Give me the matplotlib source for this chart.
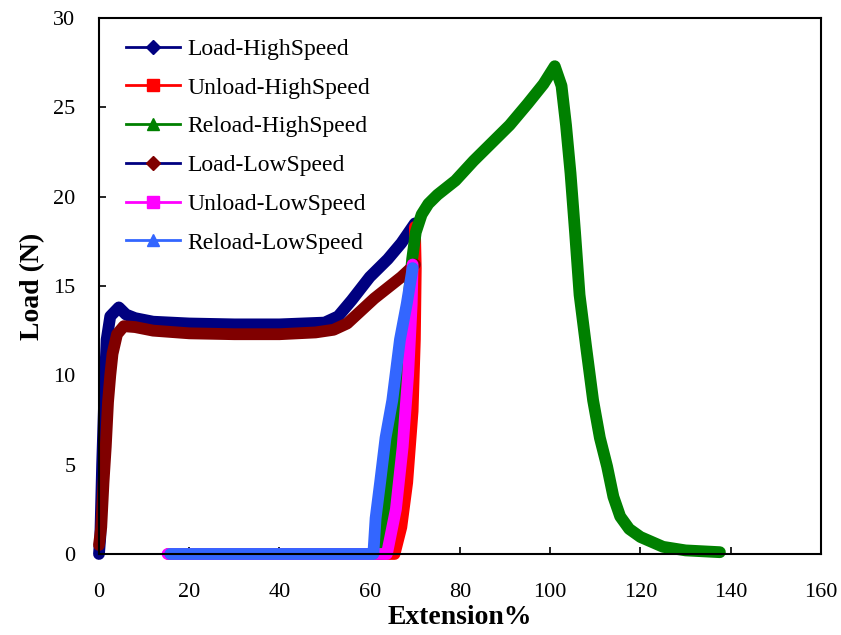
import matplotlib.pyplot as plt
from matplotlib.lines import Line2D

plt.rcParams['font.family'] = ['Liberation Serif', 'DejaVu Serif']

# load / unload / reload curves
load_hs_x = [0, 0.3, 0.7, 1.2, 1.7, 2.5, 4.4, 6, 8, 12, 20, 30, 40, 50, 53, 56, 60, 64, 67, 70]
load_hs_y = [0, 1, 5, 9, 12, 13.3, 13.8, 13.4, 13.2, 13.0, 12.9, 12.85, 12.85, 12.95, 13.3, 14.2, 15.5, 16.5, 17.4, 18.5]

unload_hs_x = [70, 70.2, 70, 69.5, 68.3, 67, 65.5, 60, 40, 20, 15.5]
unload_hs_y = [18.3, 16, 12, 8, 4, 1.5, 0, 0, 0, 0, 0]

reload_hs_x = [15.5, 40, 62.5, 63.2, 64.5, 66, 67.3, 68.5, 69.4, 70.2, 71.5, 73, 75, 79, 83, 87, 91, 95,
               98.5, 101, 102.5, 103.5, 104.5, 105.5, 106.5, 108, 109.5, 111, 112.6, 114, 115.5, 117.5,
               120, 125, 130, 137.6]
reload_hs_y = [0, 0, 0, 1, 4, 8, 11, 14, 16.5, 18, 19, 19.6, 20.1, 20.9, 22, 23, 24, 25.2,
               26.3, 27.3, 26.2, 24, 21.3, 18, 14.5, 11.5, 8.6, 6.5, 4.9, 3.2, 2.1, 1.4,
               0.95, 0.4, 0.2, 0.1]

load_ls_x = [0, 0.5, 1.0, 1.5, 2.0, 2.5, 3.0, 4.0, 5.5, 8, 12, 20, 30, 40, 48, 52, 55, 58, 61, 64, 67, 70]
load_ls_y = [0.5, 1.5, 4, 6, 8.5, 10, 11.2, 12.3, 12.75, 12.7, 12.5, 12.35, 12.3, 12.3, 12.4, 12.55, 12.9, 13.6, 14.3, 14.9, 15.5, 16.2]

unload_ls_x = [69.5, 69.3, 68.5, 67.3, 65.8, 63.8, 40, 15.2]
unload_ls_y = [16.2, 14, 10, 6, 2.5, 0, 0, 0]

reload_ls_x = [15.8, 40, 60.8, 61.3, 62.3, 63.5, 65, 66.7, 68.2, 69.5]
reload_ls_y = [0, 0, 0, 2, 4, 6.5, 8.6, 12, 14, 16]

series = [
    ('Load-HighSpeed', load_hs_x, load_hs_y, '#000080', '#000080', 'D'),
    ('Unload-HighSpeed', unload_hs_x, unload_hs_y, '#ff0000', '#ff0000', 's'),
    ('Reload-HighSpeed', reload_hs_x, reload_hs_y, '#008000', '#008000', '^'),
    ('Load-LowSpeed', load_ls_x, load_ls_y, '#800000', '#000080', 'D'),
    ('Unload-LowSpeed', unload_ls_x, unload_ls_y, '#ff00ff', '#ff00ff', 's'),
    ('Reload-LowSpeed', reload_ls_x, reload_ls_y, '#3366ff', '#3366ff', '^'),
]

fig = plt.figure(figsize=(8.41, 6.35), dpi=100)
ax = fig.add_axes([0.1177, 0.1276, 0.8585, 0.8441])

handles = []
for name, xs, ys, col, legcol, mk in series:
    ax.plot(xs, ys, color=col, lw=8.5, solid_joinstyle='round', solid_capstyle='round', clip_on=False)
    handles.append(Line2D([], [], color=legcol, lw=2, marker=mk, ms=8 if mk != 'D' else 7,
                          markerfacecolor=col, markeredgecolor=col, label=name))

ax.set_xlim(0, 160)
ax.set_ylim(0, 30)
ax.set_xticks(range(0, 161, 20))
ax.set_yticks(range(0, 31, 5))
ax.tick_params(direction='in', length=5, width=1.2, labelsize=16)
ax.tick_params(axis='x', pad=21)
ax.tick_params(axis='y', pad=17)
for s in ax.spines.values():
    s.set_linewidth(1.5)

ax.set_xlabel('Extension%', fontsize=20, fontweight='bold', labelpad=2)
ax.set_ylabel('Load (N)', fontsize=20, fontweight='bold', labelpad=6)

ax.legend(handles=handles, loc='upper left', bbox_to_anchor=(0.037, 0.962), frameon=False,
          fontsize=17, handlelength=2.3, handletextpad=0.3, labelspacing=0.73,
          borderpad=0, borderaxespad=0)

fig.savefig('out.png', dpi=100)
